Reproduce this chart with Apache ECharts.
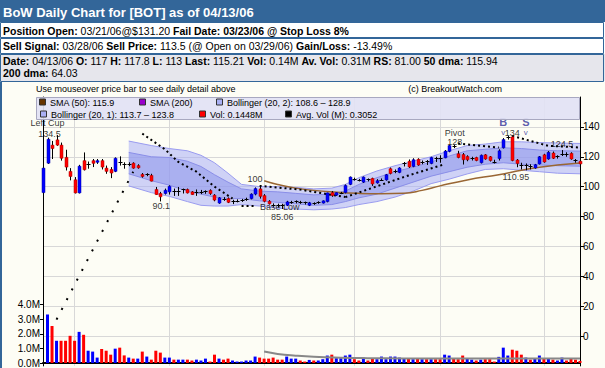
<!DOCTYPE html>
<html><head><meta charset="utf-8">
<script src="https://cdn.jsdelivr.net/npm/echarts@6/dist/echarts.min.js"></script>
<style>html,body{margin:0;padding:0;background:#fff;}#c{width:605px;height:368px;}</style>
</head><body><div id="c"></div>
<script>
// ---------- data ----------
const months = [
  ['2005-10', [21,24,25,26,27,28,31]],
  ['2005-11', [1,2,3,4,7,8,9,10,11,14,15,16,17,18,21,22,23,25,28,29,30]],
  ['2005-12', [1,2,5,6,7,8,9,12,13,14,15,16,19,20,21,22,23,27,28,29,30]],
  ['2006-01', [3,4,5,6,9,10,11,12,13,17,18,19,20,23,24,25,26,27,30,31]],
  ['2006-02', [1,2,3,6,7,8,9,10,13,14,15,16,17,21,22,23,24,27,28]],
  ['2006-03', [1,2,3,6,7,8,9,10,13,14,15,16,17,20,21,22,23,24,27,28,29,30,31]],
  ['2006-04', [3,4,5,6,7,10,11,12,13]]
];
const open = [96,115.7,127.8,131.3,127.8,119.6,110.2,104.6,95.8,117.4,
115.0,117.4,116.3,117.4,112.4,111.5,110.2,116.0,115.2,115.0,
115.7,114.1,108.2,107.8,107.5,98.1,95.4,95.4,96.5,97.0,
97.2,98.0,98.1,96.5,96.5,96.5,96.3,97.5,94.3,89.0,
92.0,92.0,90.0,90.5,90.6,91.5,92.0,95.0,98.5,94.0,
90.2,88.0,87.8,87.5,87.5,89.8,89.5,89.8,89.5,87.5,
88.5,89.0,89.0,90.0,96.0,94.3,95.8,96.0,101.5,105.0,
104.5,103.0,104.8,105.5,102.5,104.5,104.5,112.0,110.5,109.5,
114.5,117.0,113.5,118.3,116.5,117.0,115.5,119.0,119.5,119.3,
123.6,127.0,122.0,121.5,120.2,118.8,119.5,116.0,121.3,120.0,
116.5,118.8,126.0,132.8,133.3,117.8,114.5,114.2,114.0,112.5,
115.2,121.3,118.5,122.5,120.2,121.5,121.8,122.3,117.5,117.0];
const high = [116,132.8,130.6,134.5,129.5,124.7,112.4,106.4,114.6,122.9,
116.8,118.5,118.5,118.5,114.1,113.1,119.6,120.3,116.3,116.3,
116.3,115.0,109.1,109.0,108.6,99.8,96.5,98.7,100.9,98.7,
99.8,98.7,98.7,97.0,98.1,97.8,97.5,98.2,95.0,93.0,
93.0,92.8,91.2,91.5,91.8,92.6,95.5,99.5,100.0,95.0,
91.0,88.8,88.6,88.5,90.5,90.5,90.8,90.5,90.0,89.8,
89.5,90.2,90.8,96.0,97.0,96.2,96.5,101.5,106.8,106.0,
105.2,106.8,105.5,106.0,105.0,105.5,108.5,112.8,111.5,113.0,
116.5,118.2,119.0,119.0,117.5,117.8,120.0,120.0,121.0,124.5,
128.0,128.0,124.0,122.5,121.0,120.0,120.0,121.5,121.8,120.5,
118.0,125.0,132.5,134.0,134.0,118.5,116.0,115.5,115.0,115.2,
120.5,122.0,123.8,123.5,121.0,124.5,123.0,123.0,118.5,117.8];
const low = [95.4,115.2,118.5,127.3,117.4,110.8,104.2,95.4,95.4,110.8,
112.0,113.1,115.2,111.5,108.6,105.7,109.7,114.1,112.0,113.7,
112.0,112.0,106.0,107.0,103.5,94.5,90.1,94.7,94.7,93.8,
93.8,95.4,95.4,94.5,93.8,95.0,95.2,94.5,90.2,88.5,
90.5,89.0,88.3,89.5,89.8,90.5,91.5,94.2,92.0,89.5,
88.0,86.5,86.0,85.06,87.0,88.5,88.8,88.5,88.0,87.0,
87.8,88.5,88.7,89.5,93.2,93.8,95.0,95.5,101.0,104.0,
103.5,102.5,103.5,100.5,102.0,104.0,104.0,108.2,109.0,109.0,
113.5,112.5,113.0,114.0,115.0,114.5,115.0,116.5,116.0,119.0,
123.0,125.8,119.0,114.8,117.0,117.5,117.0,115.5,118.0,116.8,
115.5,117.5,125.5,131.5,117.0,113.0,111.5,110.95,111.5,112.0,
114.8,116.0,118.0,118.5,118.8,120.5,120.0,118.0,116.0,113.0];
const close = [112.4,131.7,125.5,127.8,119.0,113.1,106.8,95.8,113.7,111.3,
115.2,115.6,117.4,113.1,110.2,109.1,119.0,116.3,114.8,115.4,
112.4,112.6,106.8,108.2,103.7,94.7,93.2,97.6,100.2,96.8,
97.0,98.1,95.8,94.7,96.3,96.6,96.8,95.4,91.0,92.5,
91.8,89.5,90.2,90.7,91.0,91.8,95.0,98.7,93.5,90.2,
88.5,87.8,87.5,87.3,89.8,90.0,90.3,89.5,89.0,89.2,
88.8,89.5,90.5,95.8,94.0,96.0,96.0,100.8,106.4,105.3,
104.2,106.4,104.0,101.8,104.0,104.6,108.0,108.8,110.2,112.5,
115.5,113.2,118.0,114.5,116.8,116.0,119.5,119.2,119.0,123.8,
127.5,127.3,119.5,118.0,118.0,119.0,117.5,121.0,118.5,117.5,
116.8,124.0,131.5,133.0,117.5,115.5,114.0,114.0,113.8,114.7,
120.0,116.5,123.0,119.0,120.0,121.8,121.5,118.5,117.8,115.21];
// volume in millions
const volume = [null,3.32,2.53,1.52,1.52,1.52,1.86,1.52,2.13,1.93,
0.84,0.78,0.37,0.96,0.84,0.57,0.98,1.05,0.52,0.37,
0.30,0.30,0.78,0.44,0.23,0.84,0.71,0.37,0.37,0.23,
0.23,0.23,0.23,0.17,0.23,0.17,0.30,0.10,0.57,0.30,
0.23,0.30,0.17,0.10,0.10,0.17,0.17,0.44,0.37,0.30,
0.30,0.37,0.23,0.23,0.44,0.30,0.30,0.17,0.10,0.21,
0.17,0.17,0.26,0.51,0.57,0.33,0.33,0.51,0.57,0.26,
0.17,0.37,0.17,0.33,0.26,0.44,0.26,0.44,0.44,0.37,
0.30,0.30,0.26,0.30,0.26,0.26,0.26,0.26,0.26,0.57,
0.51,0.30,0.26,0.51,0.30,0.23,0.17,0.23,0.26,0.26,
0.10,0.42,1.05,0.51,0.91,0.84,0.57,0.37,0.23,0.30,
0.51,0.30,0.30,0.23,0.17,0.37,0.17,0.30,0.23,0.1448];
// Bollinger band edges: [bar, value]
const bollUpper2 = [[19,130.5],[24,127.5],[28,125.5],[32,124],[35,121],[38,116],[41,109],[44,101.5],[48,100],[52,100],[56,99.5],[60,98.5],[64,99],[67,101.5],[70,106],[74,110.5],[78,114],[82,117],[86,120],[90,124],[94,127.5],[98,128.5],[102,130],[106,130],[110,129.5],[114,129.2],[119,128.9]];
const bollUpper1 = [[19,122.9],[24,120],[28,119.5],[32,117],[35,113.5],[38,108],[41,103],[44,98.5],[48,97],[52,96.5],[56,95.5],[60,94.5],[64,95],[67,97],[70,101.5],[74,106],[78,110],[82,113],[86,116.5],[90,120.5],[94,124],[98,125],[102,126],[106,125.5],[110,124.5],[114,124],[119,123.8]];
const bollLower1 = [[19,108.6],[24,104],[28,101],[32,97],[35,95],[38,93],[41,92],[44,92],[48,90.5],[52,89.5],[56,88.5],[60,87.5],[64,88],[67,90],[70,92.5],[74,95],[78,99],[82,103],[86,107],[90,110],[94,113],[98,115],[102,116],[106,115],[110,114.5],[114,114],[119,113.7]];
const bollLower2 = [[19,100.5],[24,96],[28,93.5],[32,90],[35,87.5],[38,87],[41,87],[44,88],[48,87],[52,85.5],[56,85],[60,84.5],[64,85],[67,86],[70,88],[74,90],[78,93],[82,97],[86,102],[90,105],[94,108.5],[98,111.5],[102,112],[106,111],[110,110],[114,109],[119,108.6]];
const sma50 = [[49,104],[52,101.5],[56,99],[60,97.5],[64,96.5],[70,95.5],[75,95.2],[80,95.5],[84,97.5],[88,100.5],[94,104.5],[101,108],[106,111],[110,113],[114,114.5],[119,115.9]];
const avgVol = [[49,0.78],[52,0.62],[56,0.5],[60,0.42],[66,0.36],[72,0.33],[80,0.31],[90,0.30],[100,0.30],[110,0.31],[119,0.305]];
// pattern (dotted) trend lines: [bar, price]
const trendLines = [
  [[3,11],[20,110]],
  [[22,135.5],[27,125],[30,116.5],[34,110],[38,100],[42,92]],
  [[44,87],[47,87]],
  [[48,100.5],[57,98],[67,93]],
  [[67,93],[81,107.5],[89,115]],
  [[92,128.8],[101,126.2]],
  [[104,134],[108,130.6],[112,127.3],[119,126.2]]
];
// chart annotations: bar, price, text
const notes = [
  {i:1, p:142.3, t:'Left Cup', dx:0},
  {i:1, p:135.5, t:'134.5', dx:2},
  {i:26, p:87.0, t:'90.1', dx:1},
  {i:47, p:105.0, t:'100', dx:0},
  {i:52, p:86.1, t:'Base Low', dx:2},
  {i:53, p:79.5, t:'85.06', dx:0},
  {i:91, p:135.7, t:'Pivot', dx:1},
  {i:91, p:129.7, t:'128', dx:1},
  {i:102, p:136.0, t:'134', dx:9},
  {i:115, p:128.4, t:'124.5', dx:0},
  {i:105, p:106.6, t:'110.95', dx:-1}
];
const signals = [
  {i:102, p:143.0, t:'B'},
  {i:107, p:143.0, t:'S'}
];
const priceTicks = [0,20,40,60,80,100,120,140];
const volTicks = [0,1,2,3,4];

// ---------- build ----------
const dates = []; const monthStarts = [];
months.forEach(([m, days], k) => {
  if (k > 0) monthStarts.push(dates.length);
  days.forEach(d => dates.push(m + '-' + String(d).padStart(2, '0')));
});
const candleData = dates.map((d, i) => [i, open[i], close[i], low[i], high[i]]);
const volData = volume.map((v, i) => ({
  value: v,
  itemStyle: {color: (i > 0 && close[i] >= close[i - 1]) ? '#0000ff' : '#ff0000'}
}));

const chart = echarts.init(document.getElementById('c'), null, {renderer: 'svg'});
const F = 'Liberation Sans, Arial, sans-serif';

function bandPoly(api, up, lo) {
  const pts = up.map(p => api.coord(p));
  lo.slice().reverse().forEach(p => pts.push(api.coord(p)));
  return pts;
}
function renderBands(params, api) {
  const line = arr => arr.map(p => api.coord(p));
  return {type: 'group', children: [
    {type: 'polygon', shape: {points: bandPoly(api, bollUpper2, bollLower2)}, style: {fill: 'rgba(170,175,245,0.55)'}},
    {type: 'polygon', shape: {points: bandPoly(api, bollUpper1, bollLower1)}, style: {fill: 'rgba(140,148,235,0.55)'}},
    {type: 'polyline', shape: {points: line(bollUpper2)}, style: {stroke: '#9a9cf0', lineWidth: 1, fill: null}},
    {type: 'polyline', shape: {points: line(bollLower2)}, style: {stroke: '#9a9cf0', lineWidth: 1, fill: null}},
    {type: 'polyline', shape: {points: line(bollUpper1)}, style: {stroke: '#8a8ee8', lineWidth: 1, fill: null}},
    {type: 'polyline', shape: {points: line(bollLower1)}, style: {stroke: '#8a8ee8', lineWidth: 1, fill: null}}
  ]};
}
function renderCandle(params, api) {
  const i = api.value(0), o = api.value(1), c = api.value(2), l = api.value(3), h = api.value(4);
  const pO = api.coord([i, o]), pC = api.coord([i, c]), pL = api.coord([i, l]), pH = api.coord([i, h]);
  const x = Math.round(pO[0]) + 0.5;
  const top = Math.min(pO[1], pC[1]), bot = Math.max(pO[1], pC[1]);
  const kids = [{type: 'line', shape: {x1: x, y1: pH[1], x2: x, y2: pL[1]}, style: {stroke: '#000', lineWidth: 1}}];
  if (bot - top < 1.5) {
    kids.push({type: 'line', shape: {x1: x - 2, y1: Math.round(top) + 0.5, x2: x + 2, y2: Math.round(top) + 0.5}, style: {stroke: '#000', lineWidth: 1}});
  } else {
    kids.push({type: 'rect', shape: {x: x - 1.5, y: top, width: 3, height: bot - top},
      style: {fill: c >= o ? '#0000ff' : '#ff0000', stroke: c >= o ? '#0000aa' : '#aa0000', lineWidth: 0.5}});
  }
  return {type: 'group', children: kids};
}

const series = [];
series.push({type: 'custom', renderItem: renderBands, data: [[0, 100]], encode: {x: 0, y: 1}, clip: true, z: 1, silent: true});
series.push({type: 'line', data: sma50, smooth: true, showSymbol: false, lineStyle: {color: '#996633', width: 1.5}, z: 3, silent: true});
trendLines.forEach((seg, k) => series.push({type: 'line', data: seg, showSymbol: false,
  lineStyle: {color: '#000', width: 2, type: k === 0 ? [2, 9] : [2, 3]}, z: 4, silent: true}));
series.push({type: 'bar', yAxisIndex: 1, data: volData, barWidth: 3, z: 2, silent: true});
series.push({type: 'line', yAxisIndex: 1, data: avgVol, smooth: true, showSymbol: false, lineStyle: {color: '#888', width: 2}, z: 3, silent: true});
series.push({type: 'custom', renderItem: renderCandle, data: candleData, encode: {x: 0, y: [1, 2, 3, 4]}, clip: false, z: 5, silent: true});
series.push({type: 'scatter', symbolSize: 0, z: 6, silent: true,
  data: notes.map(n => ({value: [n.i, n.p], label: {show: true, position: 'inside', formatter: n.t, offset: [n.dx, 0],
    color: '#000', fontSize: 9, lineHeight: 9, fontFamily: F}}))});
series.push({type: 'scatter', symbolSize: 0, z: 7, silent: true,
  data: signals.map(n => ({value: [n.i, n.p], label: {show: true, position: 'inside', formatter: n.t,
    color: '#333399', fontSize: 11, lineHeight: 9, fontWeight: 'bold', fontFamily: F}}))});
series.push({type: 'scatter', symbolSize: 0, z: 7, silent: true,
  data: signals.map(n => ({value: [n.i, n.p - 6.5], label: {show: true, position: 'inside', formatter: 'v',
    color: '#333399', fontSize: 8, lineHeight: 6, fontFamily: F}}))});

// ---------- header & legend ----------
const navyRich = {b: {fontFamily: F, fontSize: 10.5, fontWeight: 'bold', color: '#000080'}, n: {fontFamily: F, fontSize: 10.5, color: '#000080'}};
const redRich = {b: {fontFamily: F, fontSize: 10.5, fontWeight: 'bold', color: '#ff0000'}, n: {fontFamily: F, fontSize: 10.5, color: '#ff0000'}};
const greyRich = {b: {fontFamily: F, fontSize: 10.5, fontWeight: 'bold', color: '#000080'}, n: {fontFamily: F, fontSize: 10.5, color: '#3333aa'}};
const row3a = [['Date: ','04/13/06 '],['O: ','117 '],['H: ','117.8 '],['L: ','113 '],['Last: ','115.21 '],['Vol: ','0.14M '],['Av. Vol: ','0.31M '],['RS: ','81.00 '],['50 dma: ','115.94']];
const rt = arr => arr.map(([b, n]) => '{b|' + b + '}{n|' + n + '}').join('');
const legendItems = [
  {x: 39, y: 102.5, c: '#663300', t: 'SMA (50): 115.9'},
  {x: 139, y: 102.5, c: '#9900cc', t: 'SMA (200)'},
  {x: 216, y: 102.5, c: '#aab0f4', t: 'Bollinger (20, 2): 108.6 \u2013 128.9'},
  {x: 40, y: 114.5, c: '#aab0f4', t: 'Bollinger (20, 1): 113.7 \u2013 123.8'},
  {x: 199, y: 114.5, c: '#ff0000', t: 'Vol: 0.1448M'},
  {x: 285, y: 114.5, c: '#000000', t: 'Avg. Vol (M): 0.3052'}
];
const graphic = [
  {type: 'rect', shape: {x: 0, y: 0, width: 605, height: 22}, style: {fill: '#336699'}, z: 10},
  {type: 'text', x: 3, y: 12, style: {text: 'BoW Daily Chart for [BOT] as of 04/13/06', fill: '#fff', font: 'bold 13px ' + F, verticalAlign: 'middle'}, z: 11},
  {type: 'rect', shape: {x: 0, y: 22, width: 605, height: 60}, style: {fill: '#ffffff'}, z: 10},
  {type: 'rect', shape: {x: 0, y: 54, width: 605, height: 27}, style: {fill: '#e6e6ec'}, z: 10},
  {type: 'rect', shape: {x: 0.5, y: 22.5, width: 603, height: 15}, style: {fill: null, stroke: '#336699', lineWidth: 1}, z: 11},
  {type: 'rect', shape: {x: 0.5, y: 38.5, width: 603, height: 15}, style: {fill: null, stroke: '#336699', lineWidth: 1}, z: 11},
  {type: 'rect', shape: {x: 0.5, y: 54.5, width: 603, height: 27}, style: {fill: null, stroke: '#336699', lineWidth: 1}, z: 11},
  {type: 'text', x: 3, y: 31, style: {text: '{b|Position Open: }{n|03/21/06@$131.20 }{b|Fail Date: 03/23/06 @ Stop Loss 8%}', rich: navyRich, verticalAlign: 'middle'}, z: 12},
  {type: 'text', x: 3, y: 46, style: {text: '{b|Sell Signal: }{n|03/28/06 }{b|Sell Price: }{n|113.5 (@ Open on 03/29/06) }{b|Gain/Loss: }{n|-13.49%}', rich: redRich, verticalAlign: 'middle'}, z: 12},
  {type: 'text', x: 3, y: 61, style: {text: rt(row3a), rich: greyRich, verticalAlign: 'middle'}, z: 12},
  {type: 'text', x: 3, y: 73, style: {text: rt([['200 dma: ','64.03']]), rich: greyRich, verticalAlign: 'middle'}, z: 12},
  {type: 'rect', shape: {x: 0, y: 82, width: 2, height: 286}, style: {fill: '#336699'}, z: 12},
  {type: 'text', x: 36, y: 89, style: {text: 'Use mouseover price bar to see daily detail above', fill: '#000', font: '9px ' + F, verticalAlign: 'middle'}, z: 12},
  {type: 'text', x: 502, y: 89, style: {text: '(c) BreakoutWatch.com', fill: '#000', font: '9px ' + F, verticalAlign: 'middle', align: 'right'}, z: 12},
  {type: 'rect', shape: {x: 36.5, y: 97.5, width: 543, height: 22}, style: {fill: 'rgba(226,226,244,0.92)', stroke: '#a8a8c0', lineWidth: 1}, z: 12}
];
legendItems.forEach(it => {
  graphic.push({type: 'rect', shape: {x: it.x + 0.5, y: it.y - 3.5, width: 6, height: 6}, style: {fill: it.c, stroke: '#333', lineWidth: 1}, z: 13});
  graphic.push({type: 'text', x: it.x + 11, y: it.y, style: {text: it.t, fill: '#000', font: '9px ' + F, verticalAlign: 'middle'}, z: 13});
});

chart.setOption({
  animation: false,
  backgroundColor: '#fdfdf5',
  grid: {left: 43, right: 25, top: 97, height: 272.4, containLabel: false},
  xAxis: {type: 'category', data: dates, boundaryGap: false,
    axisLine: {show: true, onZero: true, onZeroAxisIndex: 1, lineStyle: {color: '#000', width: 2}},
    axisTick: {show: false}, axisLabel: {show: false},
    splitLine: {show: true, interval: (idx) => monthStarts.indexOf(idx) >= 0, lineStyle: {color: '#d8d8d8', width: 1}}},
  yAxis: [
    {type: 'value', position: 'right', min: -20, max: 160, interval: 20,
      axisLine: {show: true, lineStyle: {color: '#000', width: 1}},
      axisTick: {show: true, length: 4, customValues: priceTicks, lineStyle: {color: '#000'}},
      axisLabel: {customValues: priceTicks, color: '#000', fontSize: 10, fontFamily: F, margin: 3},
      splitLine: {show: true, lineStyle: {color: '#d8d8d8', width: 1}}},
    {type: 'value', position: 'left', min: -0.2, max: 18.2,
      axisLine: {show: true, lineStyle: {color: '#000', width: 1}},
      axisTick: {show: true, length: 3, customValues: volTicks, lineStyle: {color: '#000'}},
      axisLabel: {customValues: volTicks, formatter: v => v.toFixed(1) + 'M', color: '#000', fontSize: 10, fontFamily: F, margin: 3},
      splitLine: {show: false}}
  ],
  series: series,
  graphic: graphic
});
</script></body></html>
